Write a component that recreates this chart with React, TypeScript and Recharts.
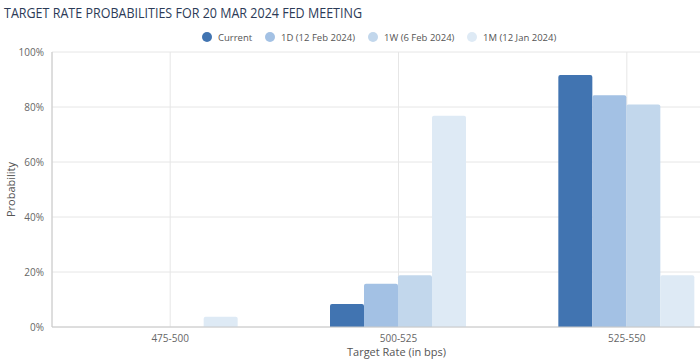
import React from 'react';
import { BarChart, Bar, XAxis, YAxis, CartesianGrid } from 'recharts';

const categories = ['475-500', '500-525', '525-550'];
const currentVals = [0, 8.4, 91.6];
const d1Vals = [0, 15.7, 84.3];
const w1Vals = [0, 18.8, 80.9];
const m1Vals = [3.7, 76.8, 18.8];
const yTicks = [0, 20, 40, 60, 80, 100];

const seriesNames = ['Current', '1D (12 Feb 2024)', '1W (6 Feb 2024)', '1M (12 Jan 2024)'];
const seriesKeys = ['current', 'd1', 'w1', 'm1'];
const colors = ['#4174B1', '#A3C1E4', '#C2D7EC', '#DEEAF5'];

const data = categories.map((c, i) => ({
  name: c,
  current: currentVals[i],
  d1: d1Vals[i],
  w1: w1Vals[i],
  m1: m1Vals[i],
}));

const FONT = '"Open Sans", "DejaVu Sans", sans-serif';
const legendX = [207, 270, 373, 472];

const YLabel = (props: any) => {
  const vb = props.viewBox || {};
  const cy = vb.y + vb.height / 2;
  return (
    <text x={15} y={cy} transform={`rotate(-90 15 ${cy})`} textAnchor="middle" fill="#555" fontSize={11} fontFamily={FONT}>
      Probability
    </text>
  );
};

const XLabel = (props: any) => {
  const vb = props.viewBox || {};
  const cx = vb.x + vb.width / 2;
  return (
    <text x={cx} y={356} textAnchor="middle" fill="#555" fontSize={11} fontFamily={FONT}>
      Target Rate (in bps)
    </text>
  );
};

export default function App() {
  return (
    <div style={{ position: 'absolute', left: 0, top: 0, width: 700, height: 361, overflow: 'hidden', background: '#fff' }}>
      <svg width={700} height={50} style={{ position: 'absolute', left: 0, top: 0 }}>
        <text x={4} y={18} fontSize={14} fontFamily={FONT} fill="#2C3B57" textLength={358} lengthAdjust="spacingAndGlyphs">
          TARGET RATE PROBABILITIES FOR 20 MAR 2024 FED MEETING
        </text>
        {seriesNames.map((n, i) => (
          <g key={n}>
            <circle cx={legendX[i]} cy={37} r={5} fill={colors[i]} />
            <text x={legendX[i] + 11} y={40.5} fontSize={9.5} fontFamily={FONT} fill="#555">
              {n}
            </text>
          </g>
        ))}
      </svg>
      <div style={{ position: 'absolute', left: 0, top: 0 }}>
        <BarChart
          width={741}
          height={361}
          data={data}
          margin={{ top: 52, right: 0, left: 0, bottom: 0 }}
          barGap={0}
          barCategoryGap="20%"
        >
          <CartesianGrid stroke="#E6E6E6" vertical={true} horizontal={true} />
          <XAxis
            dataKey="name"
            height={34}
            tickLine={false}
            padding={{ left: 4, right: 0 }}
            axisLine={{ stroke: '#C8C8C8' }}
            tick={{ fontSize: 10, fill: '#666', fontFamily: FONT }}
            tickMargin={2}
            label={<XLabel />}
          />
          <YAxis
            width={52}
            domain={[0, 100]}
            ticks={yTicks}
            tickFormatter={(v: number) => `${v}%`}
            tickLine={false}
            axisLine={{ stroke: '#C8C8C8' }}
            tick={{ fontSize: 10, fill: '#666', fontFamily: FONT }}
            label={<YLabel />}
          />
          {seriesKeys.map((k, i) => (
            <Bar key={k} dataKey={k} name={seriesNames[i]} fill={colors[i]} radius={[2, 2, 0, 0]} isAnimationActive={false} />
          ))}
        </BarChart>
      </div>
    </div>
  );
}
